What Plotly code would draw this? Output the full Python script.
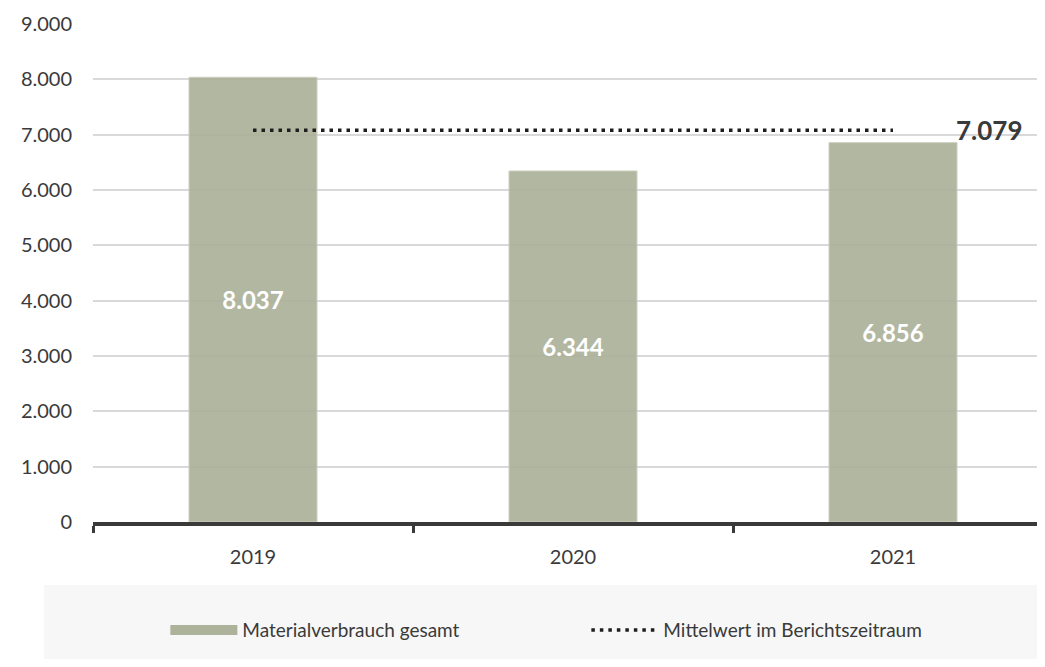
import plotly.graph_objects as go

years = ["2019", "2020", "2021"]
material = [8037, 6344, 6856]
mean_value = 7079
y_ticks = [0, 1000, 2000, 3000, 4000, 5000, 6000, 7000, 8000, 9000]

bar_name = "Materialverbrauch gesamt"
mean_name = "Mittelwert im Berichtszeitraum"

FONT = "Lato, 'Open Sans', sans-serif"
TXT = "#3a3a3a"
BAR = "#adb29b"

xpos = list(range(len(years)))
bar_w = 0.4

fig = go.Figure()

fig.add_trace(go.Bar(
    x=xpos, y=material, width=bar_w,
    marker=dict(color=BAR, opacity=0.93, line=dict(color="#c9ccbb", width=1)),
    text=material, texttemplate="<b>%{y:,}</b>",
    textposition="inside", insidetextanchor="middle",
    textfont=dict(color="white", size=24, family=FONT),
    constraintext="none",
    showlegend=False, hoverinfo="skip",
))

fig.add_trace(go.Scatter(
    x=xpos, y=[mean_value] * len(xpos), mode="lines",
    line=dict(color="#1e1e1e", width=3.5, dash="3.5px,5px"),
    showlegend=False, hoverinfo="skip",
))

# legend-only entries
fig.add_trace(go.Scatter(
    x=[None], y=[None], mode="lines", name=bar_name,
    line=dict(color=BAR, width=11),
))
fig.add_trace(go.Scatter(
    x=[None], y=[None], mode="lines", name=mean_name,
    line=dict(color="#1e1e1e", width=3.5, dash="3.5px,5px"),
))

fig.add_annotation(
    x=xpos[-1] + bar_w / 2, y=mean_value, xref="x", yref="y",
    text="<b>" + f"{mean_value:,}".replace(",", ".") + "</b>",
    showarrow=False, xanchor="left", yanchor="middle", xshift=-3,
    font=dict(size=26, color=TXT, family=FONT),
)

# legend background box
fig.add_shape(
    type="rect", xref="paper", yref="paper",
    x0=-0.0515, x1=1.0, y0=-0.1265, y1=-0.2751,
    fillcolor="#f7f7f7", line=dict(width=0), layer="below",
)

fig.update_layout(
    width=1037, height=651,
    margin=dict(l=85, r=0, t=16, b=137),
    paper_bgcolor="white", plot_bgcolor="white",
    separators=",.",
    font=dict(family=FONT, color=TXT, size=20),
    legend=dict(
        orientation="h", x=0.076, y=-0.217, xanchor="left", yanchor="middle",
        bgcolor="rgba(0,0,0,0)", font=dict(size=19, color=TXT, family=FONT),
        entrywidth=339, entrywidthmode="pixels", itemwidth=67,
    ),
    xaxis=dict(
        range=[-0.5, 2.475],
        tickvals=xpos, ticktext=years, ticks="",
        showline=True, linecolor="#3a3a3a", linewidth=4,
        showgrid=False, zeroline=False,
        ticklabelstandoff=14,
        tickfont=dict(size=20, color=TXT),
        minor=dict(tickvals=[p - 0.5 for p in xpos], ticks="outside",
                   ticklen=7, tickwidth=3, tickcolor="#3a3a3a", showgrid=False),
        fixedrange=True,
    ),
    yaxis=dict(
        range=[0, 9000], tickvals=y_ticks, tickformat=",",
        showgrid=True, gridcolor="#d9d9d9", gridwidth=2,
        zeroline=False, showline=False, ticks="",
        ticklabelstandoff=20,
        tickfont=dict(size=20, color=TXT),
    ),
)

fig.write_html("out.html")
